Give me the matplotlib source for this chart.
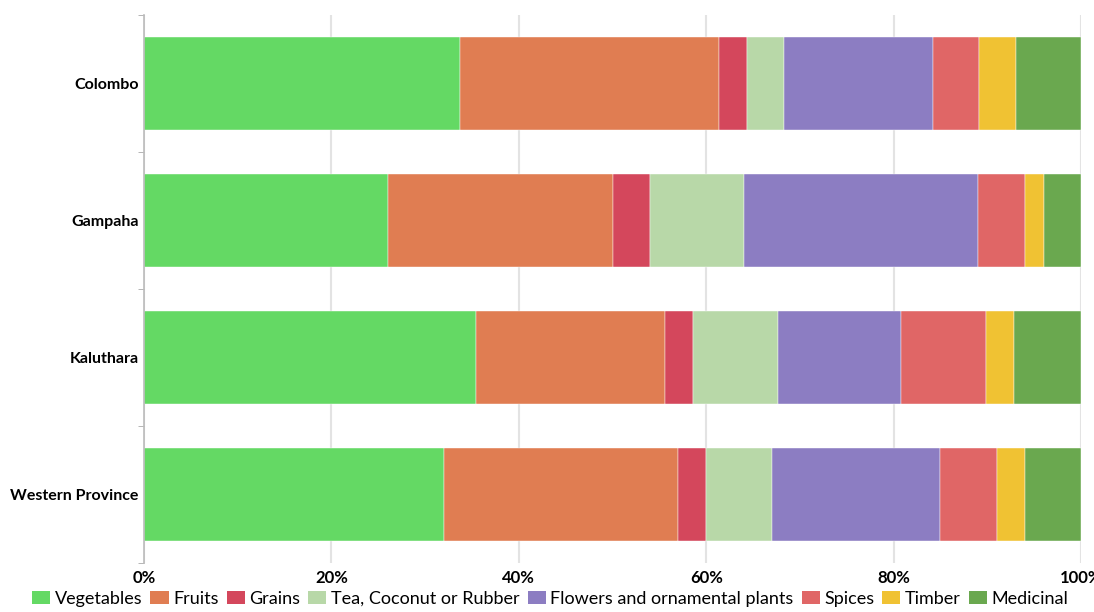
import numpy as np
import matplotlib.pyplot as plt
from matplotlib.patches import Patch
from matplotlib.ticker import FixedLocator, PercentFormatter

plt.rcParams['font.family'] = ['Lato', 'DejaVu Sans']

districts = ['Colombo', 'Gampaha', 'Kaluthara', 'Western Province']
crops = ['Vegetables', 'Fruits', 'Grains', 'Tea, Coconut or Rubber',
         'Flowers and ornamental plants', 'Spices', 'Timber', 'Medicinal']

# share of each crop type per district, in percent
vegetables = [33.7, 26.0, 35.4, 32.0]
fruits = [27.7, 24.0, 20.2, 25.0]
grains = [3.0, 4.0, 3.0, 3.0]
tea_coconut_rubber = [3.9, 10.0, 9.1, 7.0]
flowers = [15.9, 25.0, 13.1, 18.0]
spices = [4.9, 5.0, 9.1, 6.0]
timber = [4.0, 2.0, 3.0, 3.0]
medicinal = [6.9, 4.0, 7.1, 6.0]

colors = ['#64d964', '#e07d52', '#d4475c', '#b8d8a8',
          '#8c7dc2', '#e06666', '#f0c233', '#6aa84f']

series = [vegetables, fruits, grains, tea_coconut_rubber,
          flowers, spices, timber, medicinal]

fig = plt.figure(figsize=(10.94, 6.12), dpi=100)
ax = fig.add_axes([144 / 1094, 1 - 563 / 612, 937 / 1094, 548 / 612])

y = np.arange(len(districts))
left = np.zeros(len(districts))
for name, vals, c in zip(crops, series, colors):
    vals = np.array(vals)
    ax.barh(y, vals, left=left, height=0.685, color=c, label=name,
            edgecolor='white', linewidth=0.3, zorder=2)
    left += vals

ax.set_xlim(0, 100)
ax.set_ylim(len(districts) - 0.5, -0.5)
ax.set_xticks(np.arange(0, 101, 20))
ax.xaxis.set_major_formatter(PercentFormatter(decimals=0))
ax.grid(axis='x', color='#e3e3e3', linewidth=1.5, zorder=0)
ax.set_yticks(y)
ax.set_yticklabels(districts, fontweight='bold', fontsize=11.5)
ax.yaxis.set_minor_locator(FixedLocator(np.arange(-0.5, len(districts), 1)))
ax.tick_params(axis='y', which='major', length=0, pad=4)
ax.tick_params(axis='y', which='minor', length=4, color='#aaaaaa')
ax.tick_params(axis='x', length=0, labelsize=12, pad=5)
for lbl in ax.get_xticklabels():
    lbl.set_fontweight('bold')

for side in ['top', 'right', 'bottom']:
    ax.spines[side].set_visible(False)
ax.spines['left'].set_color('#bbbbbb')
ax.spines['left'].set_linewidth(1.2)

handles = [Patch(facecolor=c, edgecolor='none', label=n) for n, c in zip(crops, colors)]
fig.legend(handles=handles, loc='lower center', bbox_to_anchor=(0.503, -0.018),
           ncol=len(crops), frameon=False, fontsize=13, handlelength=1.0,
           handleheight=0.7, handletextpad=0.25, columnspacing=0.45)

fig.savefig('out.png', dpi=100)
